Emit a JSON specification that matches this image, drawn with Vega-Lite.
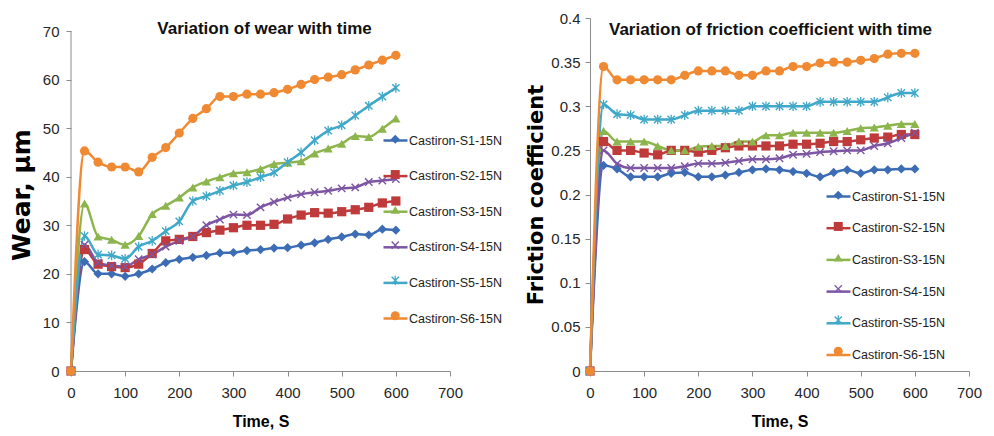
{
"$schema": "https://vega.github.io/schema/vega-lite/v6.json",
"background": "white",
"padding": {"left": 9, "top": 11, "right": 5, "bottom": 1},
"datasets": {
"wear": [
{"t":0,"s":"Castiron-S1-15N","v":0},{"t":25,"s":"Castiron-S1-15N","v":22.5},{"t":50,"s":"Castiron-S1-15N","v":20},{"t":75,"s":"Castiron-S1-15N","v":20},{"t":100,"s":"Castiron-S1-15N","v":19.5},{"t":125,"s":"Castiron-S1-15N","v":20},{"t":150,"s":"Castiron-S1-15N","v":21},{"t":175,"s":"Castiron-S1-15N","v":22.3},{"t":200,"s":"Castiron-S1-15N","v":23},{"t":225,"s":"Castiron-S1-15N","v":23.4},{"t":250,"s":"Castiron-S1-15N","v":23.8},{"t":275,"s":"Castiron-S1-15N","v":24.3},{"t":300,"s":"Castiron-S1-15N","v":24.4},{"t":325,"s":"Castiron-S1-15N","v":24.8},{"t":350,"s":"Castiron-S1-15N","v":25},{"t":375,"s":"Castiron-S1-15N","v":25.3},{"t":400,"s":"Castiron-S1-15N","v":25.4},{"t":425,"s":"Castiron-S1-15N","v":25.9},{"t":450,"s":"Castiron-S1-15N","v":26.4},{"t":475,"s":"Castiron-S1-15N","v":27.1},{"t":500,"s":"Castiron-S1-15N","v":27.6},{"t":525,"s":"Castiron-S1-15N","v":28.2},{"t":550,"s":"Castiron-S1-15N","v":28},{"t":575,"s":"Castiron-S1-15N","v":29.2},{"t":600,"s":"Castiron-S1-15N","v":29},
{"t":0,"s":"Castiron-S2-15N","v":0},{"t":25,"s":"Castiron-S2-15N","v":25},{"t":50,"s":"Castiron-S2-15N","v":22},{"t":75,"s":"Castiron-S2-15N","v":21.5},{"t":100,"s":"Castiron-S2-15N","v":21.3},{"t":125,"s":"Castiron-S2-15N","v":22},{"t":150,"s":"Castiron-S2-15N","v":24.2},{"t":175,"s":"Castiron-S2-15N","v":26.8},{"t":200,"s":"Castiron-S2-15N","v":27.1},{"t":225,"s":"Castiron-S2-15N","v":27.7},{"t":250,"s":"Castiron-S2-15N","v":28.5},{"t":275,"s":"Castiron-S2-15N","v":29},{"t":300,"s":"Castiron-S2-15N","v":29.5},{"t":325,"s":"Castiron-S2-15N","v":30},{"t":350,"s":"Castiron-S2-15N","v":30},{"t":375,"s":"Castiron-S2-15N","v":30.2},{"t":400,"s":"Castiron-S2-15N","v":31.3},{"t":425,"s":"Castiron-S2-15N","v":32.1},{"t":450,"s":"Castiron-S2-15N","v":32.6},{"t":475,"s":"Castiron-S2-15N","v":32.5},{"t":500,"s":"Castiron-S2-15N","v":32.8},{"t":525,"s":"Castiron-S2-15N","v":33.2},{"t":550,"s":"Castiron-S2-15N","v":33.7},{"t":575,"s":"Castiron-S2-15N","v":34.6},{"t":600,"s":"Castiron-S2-15N","v":35},
{"t":0,"s":"Castiron-S3-15N","v":0},{"t":25,"s":"Castiron-S3-15N","v":34.5},{"t":50,"s":"Castiron-S3-15N","v":27.7},{"t":75,"s":"Castiron-S3-15N","v":27},{"t":100,"s":"Castiron-S3-15N","v":26},{"t":125,"s":"Castiron-S3-15N","v":27.8},{"t":150,"s":"Castiron-S3-15N","v":32.3},{"t":175,"s":"Castiron-S3-15N","v":34},{"t":200,"s":"Castiron-S3-15N","v":35.7},{"t":225,"s":"Castiron-S3-15N","v":37.8},{"t":250,"s":"Castiron-S3-15N","v":39},{"t":275,"s":"Castiron-S3-15N","v":39.9},{"t":300,"s":"Castiron-S3-15N","v":40.7},{"t":325,"s":"Castiron-S3-15N","v":40.9},{"t":350,"s":"Castiron-S3-15N","v":41.6},{"t":375,"s":"Castiron-S3-15N","v":42.6},{"t":400,"s":"Castiron-S3-15N","v":42.9},{"t":425,"s":"Castiron-S3-15N","v":43.2},{"t":450,"s":"Castiron-S3-15N","v":44.8},{"t":475,"s":"Castiron-S3-15N","v":45.8},{"t":500,"s":"Castiron-S3-15N","v":46.8},{"t":525,"s":"Castiron-S3-15N","v":48.4},{"t":550,"s":"Castiron-S3-15N","v":48.2},{"t":575,"s":"Castiron-S3-15N","v":49.9},{"t":600,"s":"Castiron-S3-15N","v":52},
{"t":0,"s":"Castiron-S4-15N","v":0},{"t":25,"s":"Castiron-S4-15N","v":26},{"t":50,"s":"Castiron-S4-15N","v":22.3},{"t":75,"s":"Castiron-S4-15N","v":21.7},{"t":100,"s":"Castiron-S4-15N","v":21.5},{"t":125,"s":"Castiron-S4-15N","v":23},{"t":150,"s":"Castiron-S4-15N","v":24},{"t":175,"s":"Castiron-S4-15N","v":25.6},{"t":200,"s":"Castiron-S4-15N","v":26.8},{"t":225,"s":"Castiron-S4-15N","v":27.7},{"t":250,"s":"Castiron-S4-15N","v":30},{"t":275,"s":"Castiron-S4-15N","v":31.2},{"t":300,"s":"Castiron-S4-15N","v":32.2},{"t":325,"s":"Castiron-S4-15N","v":32.1},{"t":350,"s":"Castiron-S4-15N","v":33.7},{"t":375,"s":"Castiron-S4-15N","v":34.8},{"t":400,"s":"Castiron-S4-15N","v":35.7},{"t":425,"s":"Castiron-S4-15N","v":36.4},{"t":450,"s":"Castiron-S4-15N","v":36.8},{"t":475,"s":"Castiron-S4-15N","v":37.1},{"t":500,"s":"Castiron-S4-15N","v":37.6},{"t":525,"s":"Castiron-S4-15N","v":37.8},{"t":550,"s":"Castiron-S4-15N","v":38.9},{"t":575,"s":"Castiron-S4-15N","v":39.2},{"t":600,"s":"Castiron-S4-15N","v":39.5},
{"t":0,"s":"Castiron-S5-15N","v":0},{"t":25,"s":"Castiron-S5-15N","v":27.8},{"t":50,"s":"Castiron-S5-15N","v":24},{"t":75,"s":"Castiron-S5-15N","v":23.8},{"t":100,"s":"Castiron-S5-15N","v":23.1},{"t":125,"s":"Castiron-S5-15N","v":25.6},{"t":150,"s":"Castiron-S5-15N","v":26.8},{"t":175,"s":"Castiron-S5-15N","v":28.8},{"t":200,"s":"Castiron-S5-15N","v":30.8},{"t":225,"s":"Castiron-S5-15N","v":35},{"t":250,"s":"Castiron-S5-15N","v":36},{"t":275,"s":"Castiron-S5-15N","v":37.1},{"t":300,"s":"Castiron-S5-15N","v":38.2},{"t":325,"s":"Castiron-S5-15N","v":38.9},{"t":350,"s":"Castiron-S5-15N","v":39.9},{"t":375,"s":"Castiron-S5-15N","v":40.9},{"t":400,"s":"Castiron-S5-15N","v":43},{"t":425,"s":"Castiron-S5-15N","v":45},{"t":450,"s":"Castiron-S5-15N","v":47.5},{"t":475,"s":"Castiron-S5-15N","v":49.5},{"t":500,"s":"Castiron-S5-15N","v":50.6},{"t":525,"s":"Castiron-S5-15N","v":52.6},{"t":550,"s":"Castiron-S5-15N","v":54.6},{"t":575,"s":"Castiron-S5-15N","v":56.5},{"t":600,"s":"Castiron-S5-15N","v":58.3},
{"t":0,"s":"Castiron-S6-15N","v":0},{"t":25,"s":"Castiron-S6-15N","v":45.3},{"t":50,"s":"Castiron-S6-15N","v":43},{"t":75,"s":"Castiron-S6-15N","v":42},{"t":100,"s":"Castiron-S6-15N","v":42},{"t":125,"s":"Castiron-S6-15N","v":41},{"t":150,"s":"Castiron-S6-15N","v":44},{"t":175,"s":"Castiron-S6-15N","v":46},{"t":200,"s":"Castiron-S6-15N","v":49},{"t":225,"s":"Castiron-S6-15N","v":52},{"t":250,"s":"Castiron-S6-15N","v":54},{"t":275,"s":"Castiron-S6-15N","v":56.5},{"t":300,"s":"Castiron-S6-15N","v":56.5},{"t":325,"s":"Castiron-S6-15N","v":57},{"t":350,"s":"Castiron-S6-15N","v":57},{"t":375,"s":"Castiron-S6-15N","v":57.3},{"t":400,"s":"Castiron-S6-15N","v":58},{"t":425,"s":"Castiron-S6-15N","v":59},{"t":450,"s":"Castiron-S6-15N","v":60},{"t":475,"s":"Castiron-S6-15N","v":60.5},{"t":500,"s":"Castiron-S6-15N","v":61},{"t":525,"s":"Castiron-S6-15N","v":62},{"t":550,"s":"Castiron-S6-15N","v":63},{"t":575,"s":"Castiron-S6-15N","v":64},{"t":600,"s":"Castiron-S6-15N","v":65}
],
"friction": [
{"t":0,"s":"Castiron-S1-15N","v":0},{"t":25,"s":"Castiron-S1-15N","v":0.233},{"t":50,"s":"Castiron-S1-15N","v":0.229},{"t":75,"s":"Castiron-S1-15N","v":0.22},{"t":100,"s":"Castiron-S1-15N","v":0.22},{"t":125,"s":"Castiron-S1-15N","v":0.22},{"t":150,"s":"Castiron-S1-15N","v":0.224},{"t":175,"s":"Castiron-S1-15N","v":0.225},{"t":200,"s":"Castiron-S1-15N","v":0.22},{"t":225,"s":"Castiron-S1-15N","v":0.22},{"t":250,"s":"Castiron-S1-15N","v":0.222},{"t":275,"s":"Castiron-S1-15N","v":0.225},{"t":300,"s":"Castiron-S1-15N","v":0.228},{"t":325,"s":"Castiron-S1-15N","v":0.229},{"t":350,"s":"Castiron-S1-15N","v":0.228},{"t":375,"s":"Castiron-S1-15N","v":0.226},{"t":400,"s":"Castiron-S1-15N","v":0.224},{"t":425,"s":"Castiron-S1-15N","v":0.22},{"t":450,"s":"Castiron-S1-15N","v":0.225},{"t":475,"s":"Castiron-S1-15N","v":0.228},{"t":500,"s":"Castiron-S1-15N","v":0.224},{"t":525,"s":"Castiron-S1-15N","v":0.228},{"t":550,"s":"Castiron-S1-15N","v":0.228},{"t":575,"s":"Castiron-S1-15N","v":0.229},{"t":600,"s":"Castiron-S1-15N","v":0.229},
{"t":0,"s":"Castiron-S2-15N","v":0},{"t":25,"s":"Castiron-S2-15N","v":0.26},{"t":50,"s":"Castiron-S2-15N","v":0.25},{"t":75,"s":"Castiron-S2-15N","v":0.25},{"t":100,"s":"Castiron-S2-15N","v":0.247},{"t":125,"s":"Castiron-S2-15N","v":0.245},{"t":150,"s":"Castiron-S2-15N","v":0.25},{"t":175,"s":"Castiron-S2-15N","v":0.25},{"t":200,"s":"Castiron-S2-15N","v":0.248},{"t":225,"s":"Castiron-S2-15N","v":0.25},{"t":250,"s":"Castiron-S2-15N","v":0.253},{"t":275,"s":"Castiron-S2-15N","v":0.255},{"t":300,"s":"Castiron-S2-15N","v":0.255},{"t":325,"s":"Castiron-S2-15N","v":0.255},{"t":350,"s":"Castiron-S2-15N","v":0.255},{"t":375,"s":"Castiron-S2-15N","v":0.257},{"t":400,"s":"Castiron-S2-15N","v":0.257},{"t":425,"s":"Castiron-S2-15N","v":0.258},{"t":450,"s":"Castiron-S2-15N","v":0.26},{"t":475,"s":"Castiron-S2-15N","v":0.26},{"t":500,"s":"Castiron-S2-15N","v":0.262},{"t":525,"s":"Castiron-S2-15N","v":0.264},{"t":550,"s":"Castiron-S2-15N","v":0.265},{"t":575,"s":"Castiron-S2-15N","v":0.268},{"t":600,"s":"Castiron-S2-15N","v":0.268},
{"t":0,"s":"Castiron-S3-15N","v":0},{"t":25,"s":"Castiron-S3-15N","v":0.272},{"t":50,"s":"Castiron-S3-15N","v":0.26},{"t":75,"s":"Castiron-S3-15N","v":0.26},{"t":100,"s":"Castiron-S3-15N","v":0.26},{"t":125,"s":"Castiron-S3-15N","v":0.255},{"t":150,"s":"Castiron-S3-15N","v":0.25},{"t":175,"s":"Castiron-S3-15N","v":0.25},{"t":200,"s":"Castiron-S3-15N","v":0.254},{"t":225,"s":"Castiron-S3-15N","v":0.255},{"t":250,"s":"Castiron-S3-15N","v":0.255},{"t":275,"s":"Castiron-S3-15N","v":0.26},{"t":300,"s":"Castiron-S3-15N","v":0.26},{"t":325,"s":"Castiron-S3-15N","v":0.267},{"t":350,"s":"Castiron-S3-15N","v":0.267},{"t":375,"s":"Castiron-S3-15N","v":0.27},{"t":400,"s":"Castiron-S3-15N","v":0.27},{"t":425,"s":"Castiron-S3-15N","v":0.27},{"t":450,"s":"Castiron-S3-15N","v":0.27},{"t":475,"s":"Castiron-S3-15N","v":0.272},{"t":500,"s":"Castiron-S3-15N","v":0.275},{"t":525,"s":"Castiron-S3-15N","v":0.276},{"t":550,"s":"Castiron-S3-15N","v":0.278},{"t":575,"s":"Castiron-S3-15N","v":0.28},{"t":600,"s":"Castiron-S3-15N","v":0.28},
{"t":0,"s":"Castiron-S4-15N","v":0},{"t":25,"s":"Castiron-S4-15N","v":0.25},{"t":50,"s":"Castiron-S4-15N","v":0.235},{"t":75,"s":"Castiron-S4-15N","v":0.23},{"t":100,"s":"Castiron-S4-15N","v":0.23},{"t":125,"s":"Castiron-S4-15N","v":0.23},{"t":150,"s":"Castiron-S4-15N","v":0.23},{"t":175,"s":"Castiron-S4-15N","v":0.232},{"t":200,"s":"Castiron-S4-15N","v":0.235},{"t":225,"s":"Castiron-S4-15N","v":0.235},{"t":250,"s":"Castiron-S4-15N","v":0.236},{"t":275,"s":"Castiron-S4-15N","v":0.238},{"t":300,"s":"Castiron-S4-15N","v":0.24},{"t":325,"s":"Castiron-S4-15N","v":0.24},{"t":350,"s":"Castiron-S4-15N","v":0.241},{"t":375,"s":"Castiron-S4-15N","v":0.245},{"t":400,"s":"Castiron-S4-15N","v":0.246},{"t":425,"s":"Castiron-S4-15N","v":0.248},{"t":450,"s":"Castiron-S4-15N","v":0.249},{"t":475,"s":"Castiron-S4-15N","v":0.25},{"t":500,"s":"Castiron-S4-15N","v":0.25},{"t":525,"s":"Castiron-S4-15N","v":0.255},{"t":550,"s":"Castiron-S4-15N","v":0.258},{"t":575,"s":"Castiron-S4-15N","v":0.264},{"t":600,"s":"Castiron-S4-15N","v":0.27},
{"t":0,"s":"Castiron-S5-15N","v":0},{"t":25,"s":"Castiron-S5-15N","v":0.302},{"t":50,"s":"Castiron-S5-15N","v":0.291},{"t":75,"s":"Castiron-S5-15N","v":0.29},{"t":100,"s":"Castiron-S5-15N","v":0.285},{"t":125,"s":"Castiron-S5-15N","v":0.285},{"t":150,"s":"Castiron-S5-15N","v":0.285},{"t":175,"s":"Castiron-S5-15N","v":0.29},{"t":200,"s":"Castiron-S5-15N","v":0.295},{"t":225,"s":"Castiron-S5-15N","v":0.295},{"t":250,"s":"Castiron-S5-15N","v":0.295},{"t":275,"s":"Castiron-S5-15N","v":0.295},{"t":300,"s":"Castiron-S5-15N","v":0.3},{"t":325,"s":"Castiron-S5-15N","v":0.3},{"t":350,"s":"Castiron-S5-15N","v":0.3},{"t":375,"s":"Castiron-S5-15N","v":0.3},{"t":400,"s":"Castiron-S5-15N","v":0.3},{"t":425,"s":"Castiron-S5-15N","v":0.305},{"t":450,"s":"Castiron-S5-15N","v":0.305},{"t":475,"s":"Castiron-S5-15N","v":0.305},{"t":500,"s":"Castiron-S5-15N","v":0.305},{"t":525,"s":"Castiron-S5-15N","v":0.305},{"t":550,"s":"Castiron-S5-15N","v":0.31},{"t":575,"s":"Castiron-S5-15N","v":0.315},{"t":600,"s":"Castiron-S5-15N","v":0.315},
{"t":0,"s":"Castiron-S6-15N","v":0},{"t":25,"s":"Castiron-S6-15N","v":0.345},{"t":50,"s":"Castiron-S6-15N","v":0.33},{"t":75,"s":"Castiron-S6-15N","v":0.33},{"t":100,"s":"Castiron-S6-15N","v":0.33},{"t":125,"s":"Castiron-S6-15N","v":0.33},{"t":150,"s":"Castiron-S6-15N","v":0.33},{"t":175,"s":"Castiron-S6-15N","v":0.335},{"t":200,"s":"Castiron-S6-15N","v":0.34},{"t":225,"s":"Castiron-S6-15N","v":0.34},{"t":250,"s":"Castiron-S6-15N","v":0.34},{"t":275,"s":"Castiron-S6-15N","v":0.335},{"t":300,"s":"Castiron-S6-15N","v":0.335},{"t":325,"s":"Castiron-S6-15N","v":0.34},{"t":350,"s":"Castiron-S6-15N","v":0.34},{"t":375,"s":"Castiron-S6-15N","v":0.345},{"t":400,"s":"Castiron-S6-15N","v":0.345},{"t":425,"s":"Castiron-S6-15N","v":0.349},{"t":450,"s":"Castiron-S6-15N","v":0.35},{"t":475,"s":"Castiron-S6-15N","v":0.35},{"t":500,"s":"Castiron-S6-15N","v":0.352},{"t":525,"s":"Castiron-S6-15N","v":0.354},{"t":550,"s":"Castiron-S6-15N","v":0.359},{"t":575,"s":"Castiron-S6-15N","v":0.36},{"t":600,"s":"Castiron-S6-15N","v":0.36}
]
},
"bounds": "flush",
"spacing": 140,
"resolve": {"scale": {"stroke": "independent", "fill": "independent", "shape": "independent"}, "legend": {"stroke": "independent", "fill": "independent", "shape": "independent"}},
"hconcat": [
{
"width": 379, "height": 353,
"title": {"text": "Variation of wear with time", "fontSize": 17, "fontWeight": "bold", "color": "#111111", "anchor": "middle", "baseline": "middle", "offset": -9, "dx": 4, "dy": 19},
"layer": [
{"data": {"values": [{}]}, "mark": {"type": "rule", "color": "#8c8c8c", "strokeWidth": 1}, "encoding": {"x": {"datum": 0, "type": "quantitative"}, "y": {"datum": 0, "type": "quantitative"}, "y2": {"datum": 70}}},
{"data": {"name": "wear"}, "mark": {"type": "line", "interpolate": "monotone", "strokeWidth": 2.5},
 "encoding": {
  "x": {"field": "t", "type": "quantitative", "scale": {"domain": [0, 700], "nice": false}, "axis": {"title": "Time, S", "values": [0,100,200,300,400,500,600,700]}},
  "y": {"field": "v", "type": "quantitative", "scale": {"domain": [0, 72.68], "nice": false}, "axis": {"title": "Wear, µm", "values": [0,10,20,30,40,50,60,70], "domain": false, "titleFontSize": 25, "titlePadding": 8, "labelPadding": 7}},
  "stroke": {"field": "s", "type": "nominal", "scale": {"domain": ["Castiron-S1-15N","Castiron-S2-15N","Castiron-S3-15N","Castiron-S4-15N","Castiron-S5-15N","Castiron-S6-15N"], "range": ["#3c6db4","#bf3b3b","#8db54d","#7d56a3","#40a8c8","#f08a32"]},
   "legend": {"title": null, "orient": "none", "legendX": 311, "legendY": 109, "rowPadding": 15.6, "symbolType": "stroke", "symbolSize": 576, "symbolStrokeWidth": 2.5, "labelOffset": 0}}
 }},
{"data": {"name": "wear"}, "mark": {"type": "point", "size": 85, "opacity": 1, "strokeWidth": 0},
 "encoding": {
  "x": {"field": "t", "type": "quantitative"},
  "y": {"field": "v", "type": "quantitative"},
  "shape": {"field": "s", "type": "nominal", "scale": {"range": ["diamond","square","triangle-up","M0.69,-0.91L0.91,-0.69L0.21,0L0.91,0.69L0.69,0.91L0,0.21L-0.69,0.91L-0.91,0.69L-0.21,0L-0.91,-0.69L-0.69,-0.91L0,-0.21Z","M0.69,-0.91L0.91,-0.69L0.21,0L0.91,0.69L0.69,0.91L0,0.21L-0.69,0.91L-0.91,0.69L-0.21,0L-0.91,-0.69L-0.69,-0.91L0,-0.21ZM-0.14,-1.05L0.14,-1.05L0.14,1.05L-0.14,1.05Z","circle"]},
   "legend": {"title": null, "orient": "none", "legendX": 318, "legendY": 115, "rowPadding": 22.3, "labelExpr": "''", "symbolStrokeWidth": 0}},
  "fill": {"field": "s", "type": "nominal", "scale": {"range": ["#3c6db4","#bf3b3b","#8db54d","#7d56a3","#40a8c8","#f08a32"]},
   "legend": {"title": null, "orient": "none", "legendX": 318, "legendY": 115, "rowPadding": 22.3, "labelExpr": "''", "symbolStrokeWidth": 0}}
 }}
]
},
{
"width": 379, "height": 353,
"title": {"text": "Variation of friction coefficient with time", "fontSize": 17, "fontWeight": "bold", "color": "#111111", "anchor": "middle", "baseline": "middle", "offset": -21, "dx": -9, "dy": 15},
"layer": [
{"data": {"name": "friction"}, "mark": {"type": "line", "interpolate": "monotone", "strokeWidth": 2.5},
 "encoding": {
  "x": {"field": "t", "type": "quantitative", "scale": {"domain": [0, 700], "nice": false}, "axis": {"title": "Time, S", "values": [0,100,200,300,400,500,600,700]}},
  "y": {"field": "v", "type": "quantitative", "scale": {"domain": [0, 0.4], "nice": false}, "axis": {"title": "Friction coefficient", "values": [0,0.05,0.1,0.15,0.2,0.25,0.3,0.35,0.4], "format": "~g", "titleFontSize": 21, "titlePadding": 4}},
  "stroke": {"field": "s", "type": "nominal", "scale": {"domain": ["Castiron-S1-15N","Castiron-S2-15N","Castiron-S3-15N","Castiron-S4-15N","Castiron-S5-15N","Castiron-S6-15N"], "range": ["#3c6db4","#bf3b3b","#8db54d","#7d56a3","#40a8c8","#f08a32"]},
   "legend": {"title": null, "orient": "none", "legendX": 235, "legendY": 165, "rowPadding": 11.7, "symbolType": "stroke", "symbolSize": 576, "symbolStrokeWidth": 2.5, "labelOffset": 0}}
 }},
{"data": {"name": "friction"}, "mark": {"type": "point", "size": 85, "opacity": 1, "strokeWidth": 0},
 "encoding": {
  "x": {"field": "t", "type": "quantitative"},
  "y": {"field": "v", "type": "quantitative"},
  "shape": {"field": "s", "type": "nominal", "scale": {"range": ["diamond","square","triangle-up","M0.69,-0.91L0.91,-0.69L0.21,0L0.91,0.69L0.69,0.91L0,0.21L-0.69,0.91L-0.91,0.69L-0.21,0L-0.91,-0.69L-0.69,-0.91L0,-0.21Z","M0.69,-0.91L0.91,-0.69L0.21,0L0.91,0.69L0.69,0.91L0,0.21L-0.69,0.91L-0.91,0.69L-0.21,0L-0.91,-0.69L-0.69,-0.91L0,-0.21ZM-0.14,-1.05L0.14,-1.05L0.14,1.05L-0.14,1.05Z","circle"]},
   "legend": {"title": null, "orient": "none", "legendX": 242, "legendY": 171, "rowPadding": 18.2, "labelExpr": "''", "symbolStrokeWidth": 0}},
  "fill": {"field": "s", "type": "nominal", "scale": {"range": ["#3c6db4","#bf3b3b","#8db54d","#7d56a3","#40a8c8","#f08a32"]},
   "legend": {"title": null, "orient": "none", "legendX": 242, "legendY": 171, "rowPadding": 18.2, "labelExpr": "''", "symbolStrokeWidth": 0}}
 }}
]
}
],
"config": {
 "view": {"stroke": null},
 "font": "Liberation Sans",
 "axis": {"grid": false, "domainColor": "#8c8c8c", "tickColor": "#8c8c8c", "tickSize": 5, "labelFont": "Liberation Sans", "labelFontSize": 15, "labelColor": "#262626", "labelFlush": false, "labelOverlap": false, "titleColor": "#000000", "labelPadding": 5},
 "axisX": {"titleFont": "Liberation Sans", "titleFontSize": 16, "titleFontWeight": "bold", "labelPadding": 9, "titlePadding": 13},
 "axisY": {"titleFont": "DejaVu Sans", "titleFontWeight": "bold"},
 "legend": {"labelFont": "Liberation Sans", "labelFontSize": 12.5, "labelColor": "#222222", "symbolSize": 81, "symbolStrokeWidth": 2, "labelOffset": 8, "padding": 0, "labelLimit": 200}
}
}
